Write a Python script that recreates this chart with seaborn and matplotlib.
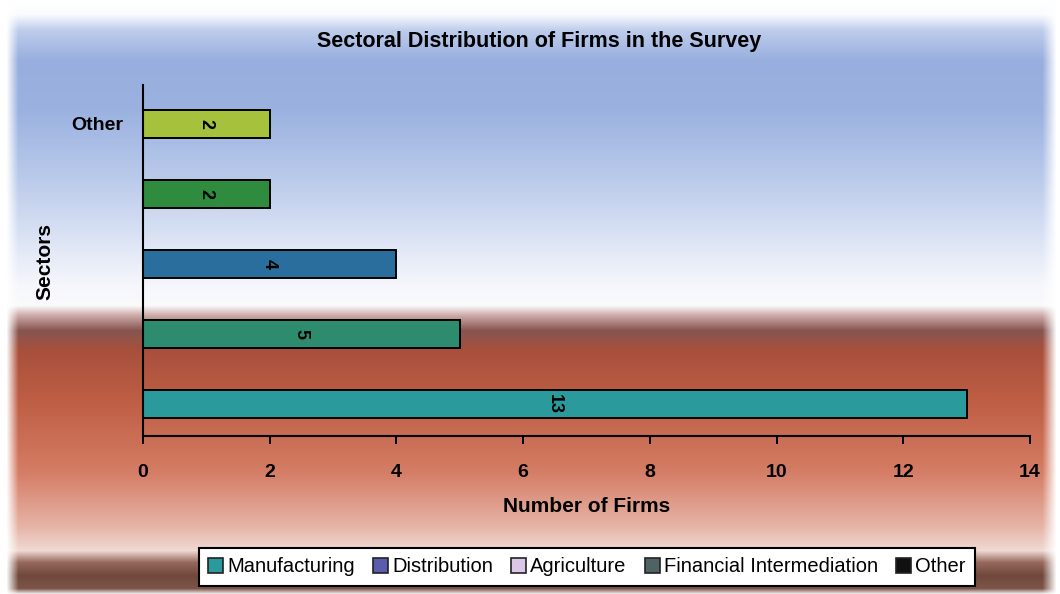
import numpy as np
import pandas as pd
import matplotlib
matplotlib.use("Agg")
import matplotlib.pyplot as plt
from matplotlib.patches import Patch
import seaborn as sns

# Survey data: sectors listed top to bottom as drawn
sectors = ["Other", "Financial Intermediation", "Agriculture", "Distribution", "Manufacturing"]
firms = [2, 2, 4, 5, 13]
tick_labels = ["Other", "", "", "", ""]
bar_colors = ["#a6c23c", "#2f8c3e", "#2a6e9e", "#2e8c6e", "#2a9a9c"]

legend_names = ["Manufacturing", "Distribution", "Agriculture", "Financial Intermediation", "Other"]
legend_colors = ["#2a9a9c", "#5c5cae", "#dcc8e6", "#4e6464", "#111111"]

x_ticks = [0, 2, 4, 6, 8, 10, 12, 14]

sns.set_theme(style="white")
bold_font = ["Liberation Sans Narrow", "Liberation Sans", "DejaVu Sans"]
plt.rcParams["font.family"] = ["Liberation Sans", "DejaVu Sans"]
plt.rcParams["text.color"] = "black"
plt.rcParams["axes.labelcolor"] = "black"
plt.rcParams["xtick.color"] = "black"
plt.rcParams["ytick.color"] = "black"

W, H = 1060, 594
fig = plt.figure(figsize=(W / 100, H / 100), dpi=100)

# Backdrop: sky-blue fading to white, then a brick-red band shading to pink
bg = fig.add_axes([0, 0, 1, 1], zorder=-10)
stops_y = [0, 14, 30, 60, 110, 170, 230, 285, 305, 315, 330, 350, 400, 470, 525, 550, 562, 575, 588, 594]
stops_c = np.array([
    [255, 255, 255], [250, 251, 254], [190, 204, 236], [152, 174, 222], [155, 178, 224],
    [182, 199, 233], [215, 224, 243], [246, 247, 252], [250, 250, 252], [205, 170, 168],
    [135, 85, 80], [168, 80, 60], [190, 94, 68], [212, 124, 100], [230, 178, 165],
    [240, 218, 212], [150, 105, 92], [112, 72, 60], [125, 85, 72], [255, 255, 255],
], dtype=float) / 255.0
rows = np.arange(H)
col = np.stack([np.interp(rows, stops_y, stops_c[:, k]) for k in range(3)], axis=1)
img = np.repeat(col[:, None, :], W, axis=1)
xs = np.arange(W)
fade = np.clip((xs - 6) / 12.0, 0, 1) * np.clip((W - 4 - xs) / 14.0, 0, 1)
img = img * fade[None, :, None] + (1 - fade[None, :, None])
bg.imshow(img, extent=[0, 1, 0, 1], aspect="auto", interpolation="bilinear")
bg.set_axis_off()

ax = fig.add_axes([143 / W, 1 - 436 / H, (1030 - 143) / W, (436 - 85) / H])
ax.set_facecolor("none")

df = pd.DataFrame({"Sector": sectors, "Firms": firms})
sns.barplot(data=df, x="Firms", y="Sector", hue="Sector", palette=bar_colors,
            order=sectors, hue_order=sectors, orient="h", width=0.4, saturation=1,
            edgecolor="black", linewidth=1.4, legend=False, ax=ax)

for i, v in enumerate(firms):
    ax.text(v / 2, i, str(v), rotation=-90, ha="center", va="center",
            fontsize=13, fontweight="bold", family=bold_font, color="black")

ax.set_xlim(0, 14)
ax.set_ylim(4.45, -0.55)
ax.set_xticks(x_ticks)
ax.set_xticklabels([str(t) for t in x_ticks], fontsize=14, fontweight="bold", family=bold_font)
ax.set_yticks(range(len(sectors)))
ax.set_yticklabels(tick_labels, fontsize=14, fontweight="bold", family=bold_font)
ax.tick_params(axis="x", direction="out", length=6, width=1.4, color="black", pad=14, bottom=True)
ax.tick_params(axis="y", length=0, pad=14)

for s in ["top", "right"]:
    ax.spines[s].set_visible(False)
for s in ["left", "bottom"]:
    ax.spines[s].set_color("black")
    ax.spines[s].set_linewidth(1.5)

ax.set_xlabel("Number of Firms", fontsize=15, fontweight="bold", family=bold_font, labelpad=12)
ax.set_ylabel("")
fig.text(45 / W, 1 - 262 / H, "Sectors", rotation=90, ha="center", va="center",
         fontsize=15, fontweight="bold", family=bold_font)
fig.text(539 / W, 1 - 42 / H, "Sectoral Distribution of Firms in the Survey",
         ha="center", va="center", fontsize=15.5, fontweight="bold", family=bold_font)

handles = [Patch(facecolor=c, edgecolor="#222222", linewidth=1.2) for c in legend_colors]
leg = fig.legend(handles, legend_names, loc="center", bbox_to_anchor=(587 / W, 1 - 567 / H),
                 ncol=5, frameon=True, fontsize=14.5, handlelength=0.75, handleheight=0.75,
                 handletextpad=0.2, columnspacing=0.9, borderpad=0.45, fancybox=False)
leg.get_frame().set_edgecolor("black")
leg.get_frame().set_linewidth(1.5)
leg.get_frame().set_facecolor("white")
leg.get_frame().set_alpha(1)

fig.savefig("out.png", dpi=100)
